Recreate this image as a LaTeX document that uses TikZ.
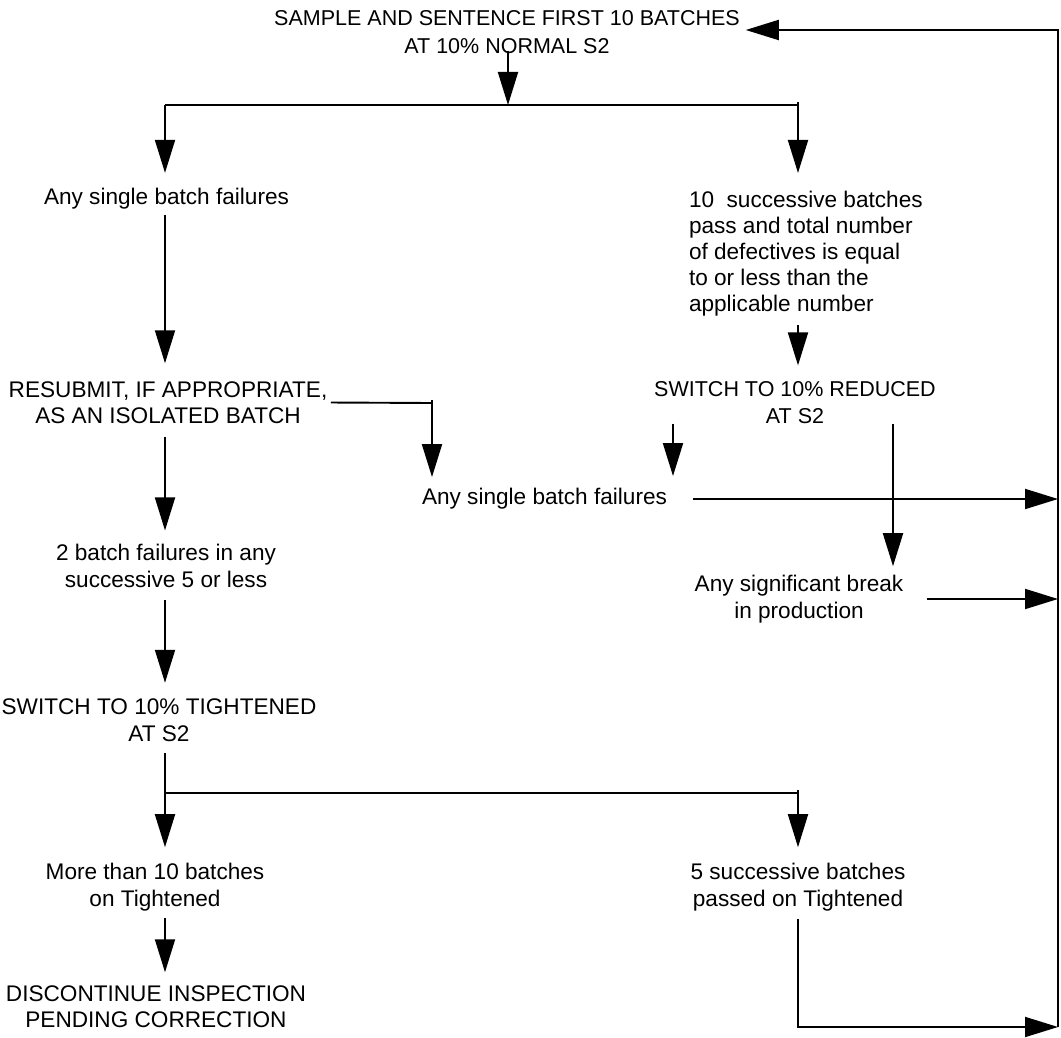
\documentclass[tikz,border=0pt]{standalone}
\usepackage{fontspec}
\setmainfont{Liberation Sans}
\usetikzlibrary{arrows.meta}
\begin{document}
\begin{tikzpicture}[x=1pt,y=-1pt,
  txt/.style={inner sep=0pt, outer sep=0pt, align=center, font=\fontsize{22.6pt}{26.5pt}\selectfont},
  bigtxt/.style={inner sep=0pt, outer sep=0pt, align=center, font=\fontsize{21.5pt}{28pt}\selectfont},
  conn/.style={draw=black, line width=1.9pt},
  arr/.style={conn, -{Triangle[length=33pt,width=20pt]}}]
\fill[white] (0,0) rectangle (1061,1038);
\useasboundingbox (0,0) rectangle (1061,1038);

% nodes
\node[bigtxt] (title) at (507,32) {SAMPLE AND SENTENCE FIRST 10 BATCHES\\AT 10\% NORMAL S2};
\node[txt] (asf1) at (166.5,199) {Any single batch failures};
\node[txt, align=left, anchor=north west, font=\fontsize{22.6pt}{26pt}\selectfont] (cond) at (689,191) {10\ \ successive batches\\pass and total number\\of defectives is equal\\to or less than the\\applicable number};
\node[txt] (resub) at (168,402.5) {RESUBMIT, IF APPROPRIATE,\\AS AN ISOLATED BATCH};
\node[bigtxt, font=\fontsize{21.5pt}{27pt}\selectfont] (reduced) at (795,402.5) {SWITCH TO 10\% REDUCED\\AT S2};
\node[txt] (asf2) at (544.5,499) {Any single batch failures};
\node[txt] (brk) at (799,599) {Any significant break\\in production};
\node[txt] (fail2) at (166,566) {2 batch failures in any\\successive 5 or less};
\node[txt] (tight) at (159,720) {SWITCH TO 10\% TIGHTENED\\AT S2};
\node[txt] (more) at (155,887) {More than 10 batches\\on Tightened};
\node[txt] (succ5) at (798,887) {5 successive batches\\passed on Tightened};
\node[txt] (disc) at (156,1006.5) {DISCONTINUE INSPECTION\\PENDING CORRECTION};

% junction coordinates
\coordinate (jt) at (508,105);
\coordinate (jl) at (165,105);
\coordinate (jr) at (798,105);
\coordinate (rb) at (432,403);
\coordinate (xa) at (673,0);
\coordinate (xb) at (893,0);
\coordinate (jl2) at (165,793);
\coordinate (jr2) at (798,793);
\coordinate (rail) at (1058,0);
\coordinate (rtop) at (1058,30);
\coordinate (rbot) at (1058,1027);
\coordinate (sbot) at (798,1027);

% connectors
\draw[arr, shorten <=-3pt] (title.south -| jt) -- (jt);
\draw[conn] (jl) -- (jr);
\draw[arr, shorten >=15.6pt] (jl) -- (asf1.north -| jl);
\draw[arr, shorten <=-3pt, shorten >=18pt] (jr) -- (cond.north -| jr);
\draw[arr, shorten <=5pt, shorten >=18pt] (asf1.south -| jl) -- (resub.north -| jl);
\draw[arr, shorten <=13pt, shorten >=14pt] (resub.south -| jl) -- (fail2.north -| jl);
\draw[conn, shorten <=3.6pt] (resub.east) -- (rb);
\draw[arr, shorten <=-3pt, shorten >=11.4pt] (rb) -- (asf2.north -| rb);
\draw[arr, shorten <=9pt, shorten >=16pt] (cond.south -| jr) -- (reduced.north -| jr);
\draw[arr, shorten >=12.4pt] (reduced.south -| xa) -- (asf2.north -| xa);
\draw[arr, shorten >=9pt] (reduced.south -| xb) -- (brk.north -| xb);
\draw[arr, shorten <=26pt] (asf2.east) -- (asf2.east -| rail);
\draw[arr, shorten <=23.5pt] (brk.east) -- (brk.east -| rail);
\draw[arr, shorten <=12pt, shorten >=16pt] (fail2.south -| jl) -- (tight.north -| jl);
\draw[conn, shorten <=12pt] (tight.south -| jl2) -- (jl2) -- (jr2);
\draw[arr, shorten >=16pt] (jl2) -- (more.north -| jl2);
\draw[arr, shorten <=-3pt, shorten >=16pt] (jr2) -- (succ5.north -| jr2);
\draw[arr, shorten <=7pt, shorten >=13pt] (more.south -| jl2) -- (disc.north -| jl2);
\draw[arr, shorten <=8pt] (succ5.south -| jr2) -- (sbot) -- (rbot);
\draw[arr, shorten >=6pt] (rbot) -- (rtop) -- (title.east |- rtop);
\end{tikzpicture}
\end{document}
